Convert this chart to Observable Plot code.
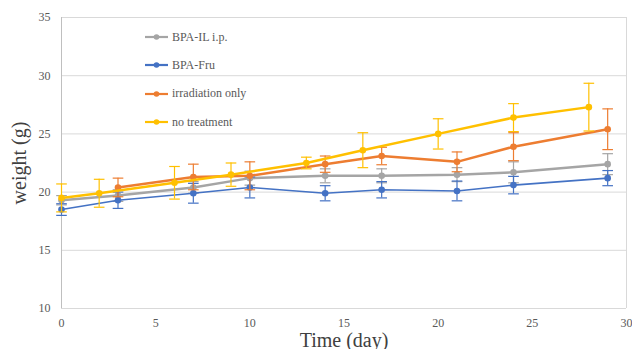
<!DOCTYPE html>
<html>
<head>
<meta charset="utf-8">
<script src="https://cdn.jsdelivr.net/npm/d3@7"></script>
<script src="https://cdn.jsdelivr.net/npm/@observablehq/plot@0.6"></script>
<style>
  html, body { margin: 0; padding: 0; background: #fff; }
  #wrap { position: relative; width: 632px; height: 349px; }
  #wrap svg { font-family: "Liberation Serif", serif; }
  g[aria-label="y-axis label"] text, g[aria-label="x-axis label"] text { font-size: 20px; fill: #404040; }
  .legend { position: absolute; left: 145px; top: 23px; font-family: "Liberation Serif", serif; font-size: 12px; color: #595959; }
  .legend .item { display: flex; align-items: center; height: 28.3px; }
  .legend svg { margin-right: 3px; }
</style>
</head>
<body>
<div id="wrap"></div>
<script>
const seriesNames = ["BPA-IL i.p.", "BPA-Fru", "irradiation only", "no treatment"];
const seriesColors = ["#A5A5A5", "#4472C4", "#ED7D31", "#FFC000"];

const daysIL = [0, 3, 7, 10, 14, 17, 21, 24, 29];
const bpaIL = [19.3, 19.7, 20.4, 21.2, 21.4, 21.4, 21.5, 21.7, 22.4];
const bpaILErr = [0.4, 0.5, 0.5, 0.6, 0.6, 0.6, 0.6, 0.9, 0.9];

const daysFru = [0, 3, 7, 10, 14, 17, 21, 24, 29];
const bpaFru = [18.5, 19.3, 19.9, 20.4, 19.9, 20.2, 20.1, 20.6, 21.2];
const bpaFruErr = [0.5, 0.7, 0.85, 0.9, 0.65, 0.7, 0.85, 0.75, 0.65];

const daysIrr = [3, 7, 10, 14, 17, 21, 24, 29];
const irrOnly = [20.4, 21.3, 21.4, 22.4, 23.1, 22.6, 23.9, 25.4];
const irrOnlyErr = [0.8, 1.1, 1.2, 0.7, 0.75, 0.85, 1.2, 1.75];

const daysNT = [0, 2, 6, 9, 13, 16, 20, 24, 28];
const noTreat = [19.5, 19.9, 20.8, 21.5, 22.5, 23.6, 25.0, 26.4, 27.3];
const noTreatErr = [1.2, 1.2, 1.4, 1.0, 0.5, 1.5, 1.3, 1.2, 2.05];

const xTicks = [0, 5, 10, 15, 20, 25, 30];
const yTicks = [10, 15, 20, 25, 30, 35];

const groups = [
  [daysIL, bpaIL, bpaILErr],
  [daysFru, bpaFru, bpaFruErr],
  [daysIrr, irrOnly, irrOnlyErr],
  [daysNT, noTreat, noTreatErr]
];
const data = groups.flatMap(([d, v, e], i) =>
  d.map((day, j) => ({series: seriesNames[i], day, w: v[j], lo: v[j] - e[j], hi: v[j] + e[j]}))
);

const capSymbol = {
  draw(ctx, size) {
    const w = Math.sqrt(size);
    ctx.moveTo(-w, 0);
    ctx.lineTo(w, 0);
  }
};

const widths = {"BPA-IL i.p.": 2.5, "BPA-Fru": 1.6, "irradiation only": 2.5, "no treatment": 2.5};

const marks = [
  Plot.ruleY(yTicks, {stroke: "#d9d9d9", strokeWidth: 1}),
  Plot.ruleX([0], {stroke: "#bfbfbf", strokeWidth: 1}),
  Plot.ruleX([30], {stroke: "#d9d9d9", strokeWidth: 1}),
  Plot.axisY(yTicks, {tickSize: 0, tickPadding: 11, fontSize: 12, color: "#595959", label: "weight (g)", labelAnchor: "center", labelArrow: "none", labelOffset: 50}),
  Plot.axisX(xTicks, {tickSize: 0, tickPadding: 10, fontSize: 12, color: "#595959", label: "Time (day)", labelAnchor: "center", labelArrow: "none", labelOffset: 38})
];

seriesNames.forEach((name, i) => {
  const d = data.filter(r => r.series === name);
  const c = seriesColors[i];
  marks.push(
    Plot.ruleX(d, {x: "day", y1: "lo", y2: "hi", stroke: c, strokeWidth: 1.2}),
    Plot.dot(d, {x: "day", y: "lo", symbol: capSymbol, r: 3, stroke: c, strokeWidth: 1.2, fill: "none"}),
    Plot.dot(d, {x: "day", y: "hi", symbol: capSymbol, r: 3, stroke: c, strokeWidth: 1.2, fill: "none"}),
    Plot.line(d, {x: "day", y: "w", stroke: c, strokeWidth: widths[name]}),
    Plot.dot(d, {x: "day", y: "w", fill: c, r: 3.3})
  );
});

const chart = Plot.plot({
  width: 632,
  height: 349,
  marginLeft: 61,
  marginRight: 6,
  marginTop: 17,
  marginBottom: 41,
  style: {fontFamily: "Liberation Serif, serif", background: "#fff"},
  x: {domain: [0, 30]},
  y: {domain: [10, 35]},
  marks
});

const wrap = document.getElementById("wrap");
wrap.appendChild(chart);

const legend = document.createElement("div");
legend.className = "legend";
seriesNames.forEach((name, i) => {
  const item = document.createElement("div");
  item.className = "item";
  item.innerHTML = `<svg width="24" height="8"><line x1="0" y1="4" x2="23" y2="4" stroke="${seriesColors[i]}" stroke-width="2.2"/><circle cx="11.5" cy="4" r="2.8" fill="${seriesColors[i]}"/></svg><span>${name}</span>`;
  legend.appendChild(item);
});
wrap.appendChild(legend);
</script>
</body>
</html>
